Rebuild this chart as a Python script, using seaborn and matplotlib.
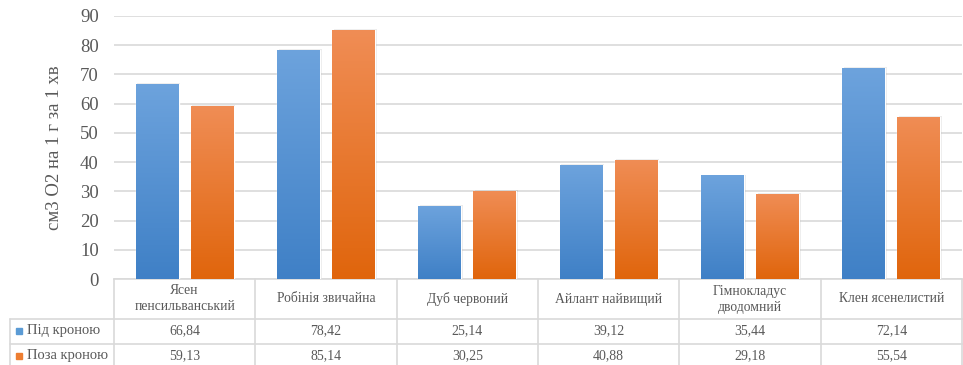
import numpy as np
import pandas as pd
import matplotlib
matplotlib.use("Agg")
import matplotlib.pyplot as plt
from matplotlib.colors import LinearSegmentedColormap
from matplotlib.lines import Line2D
import seaborn as sns

# Oxygen release per species, under the canopy and outside it
species = ["Ясен\nпенсильванський", "Робінія звичайна", "Дуб червоний",
           "Айлант найвищий", "Гімнокладус\nдводомний", "Клен ясенелистий"]
under_crown = [66.84, 78.42, 25.14, 39.12, 35.44, 72.14]
outside_crown = [59.13, 85.14, 30.25, 40.88, 29.18, 55.54]
series_names = ["Під кроною", "Поза кроною"]
y_ticks = [0, 10, 20, 30, 40, 50, 60, 70, 80, 90]
y_label = "см3 О2 на 1 г за 1 хв"

df = pd.DataFrame({
    "species": species * 2,
    "value": under_crown + outside_crown,
    "series": [series_names[0]] * len(species) + [series_names[1]] * len(species),
})

sns.set_theme(style="white")
plt.rcParams["font.family"] = ["Liberation Serif", "DejaVu Serif"]
TXT = "#595959"
GRID = "#d9d9d9"
BLUE = "#5b9bd5"
ORANGE = "#ed7d31"

W, H = 963, 365
fig = plt.figure(figsize=(W / 100, H / 100), dpi=100)
fig.patch.set_facecolor("white")

left_px, right_px, top_px, base_px = 114, 962, 16, 279
ax = fig.add_axes([left_px / W, 1 - base_px / H,
                   (right_px - left_px) / W, (base_px - top_px) / H])

sns.barplot(data=df, x="species", y="value", hue="series", order=species,
            hue_order=series_names, palette=[BLUE, ORANGE], width=0.78,
            gap=0.22, saturation=1, legend=False, ax=ax, zorder=3)

ax.set_ylim(0, 90)
ax.set_xlim(-0.5, len(species) - 0.5)
ax.set_yticks(y_ticks)
ax.set_yticklabels([str(t) for t in y_ticks], fontsize=13.5, color=TXT)
ax.tick_params(axis="y", length=0, pad=11)
ax.set_xticks([])
ax.set_xlabel("")
ax.set_ylabel(y_label, fontsize=13.5, color=TXT, labelpad=12)
ax.yaxis.grid(True, color=GRID, linewidth=1.2, zorder=0)
for s in ["top", "right", "left"]:
    ax.spines[s].set_visible(False)
ax.spines["bottom"].set_color(GRID)
ax.spines["bottom"].set_linewidth(1.2)

# gradient fill for each bar (lighter at the top, deeper at the base)
grads = [
    LinearSegmentedColormap.from_list("b", ["#3f80c6", "#6da3dd"]),
    LinearSegmentedColormap.from_list("o", ["#e0650c", "#f08d55"]),
]
grad = np.linspace(0, 1, 256).reshape(-1, 1)
for cont, cmap in zip(ax.containers, grads):
    for bar in cont:
        x0, y0 = bar.get_x(), bar.get_y()
        w, h = bar.get_width(), bar.get_height()
        # soft shadow
        ax.add_patch(plt.Rectangle((x0 + 0.012, y0), w, h + 0.25,
                                   color="#000000", alpha=0.08, zorder=2,
                                   linewidth=0))
        im = ax.imshow(grad, extent=[x0, x0 + w, y0, y0 + h], origin="lower",
                       cmap=cmap, aspect="auto", zorder=4)
        im.set_clip_path(bar)
ax.set_xlim(-0.5, len(species) - 0.5)
ax.set_ylim(0, 90)

# data table under the axis
def fx(px):
    return px / W

def fy(py):
    return 1 - py / H

col_w = (right_px - left_px) / len(species)
row_edges = [base_px, 319, 344, 369]
tab_left = 10

for i in range(len(species) + 1):
    x = left_px + i * col_w
    fig.add_artist(Line2D([fx(x), fx(x)], [fy(base_px), fy(H + 5)],
                          color=GRID, lw=1.2))
fig.add_artist(Line2D([fx(tab_left), fx(tab_left)], [fy(319), fy(H + 5)],
                      color=GRID, lw=1.2))
for r in row_edges[1:]:
    fig.add_artist(Line2D([fx(tab_left), fx(W + 5)], [fy(r), fy(r)],
                          color=GRID, lw=1.2))

for i, name in enumerate(species):
    cx = left_px + (i + 0.5) * col_w
    fig.text(fx(cx), fy((row_edges[0] + row_edges[1]) / 2), name,
             ha="center", va="center", fontsize=9.8, color=TXT,
             linespacing=1.3)
    for r, vals in enumerate([under_crown, outside_crown]):
        fig.text(fx(cx), fy((row_edges[r + 1] + row_edges[r + 2]) / 2 - 1),
                 f"{vals[i]:.2f}".replace(".", ","), ha="center", va="center",
                 fontsize=10, color=TXT)

for r, (name, col) in enumerate(zip(series_names, [BLUE, ORANGE])):
    cy = (row_edges[r + 1] + row_edges[r + 2]) / 2 - 1
    fig.add_artist(plt.Rectangle((fx(16), fy(cy + 3)), 6 / W, 6 / H,
                                 color=col, transform=fig.transFigure))
    fig.text(fx(27), fy(cy), name, ha="left", va="center",
             fontsize=10.5, color=TXT)

fig.savefig("out.png", dpi=100)
